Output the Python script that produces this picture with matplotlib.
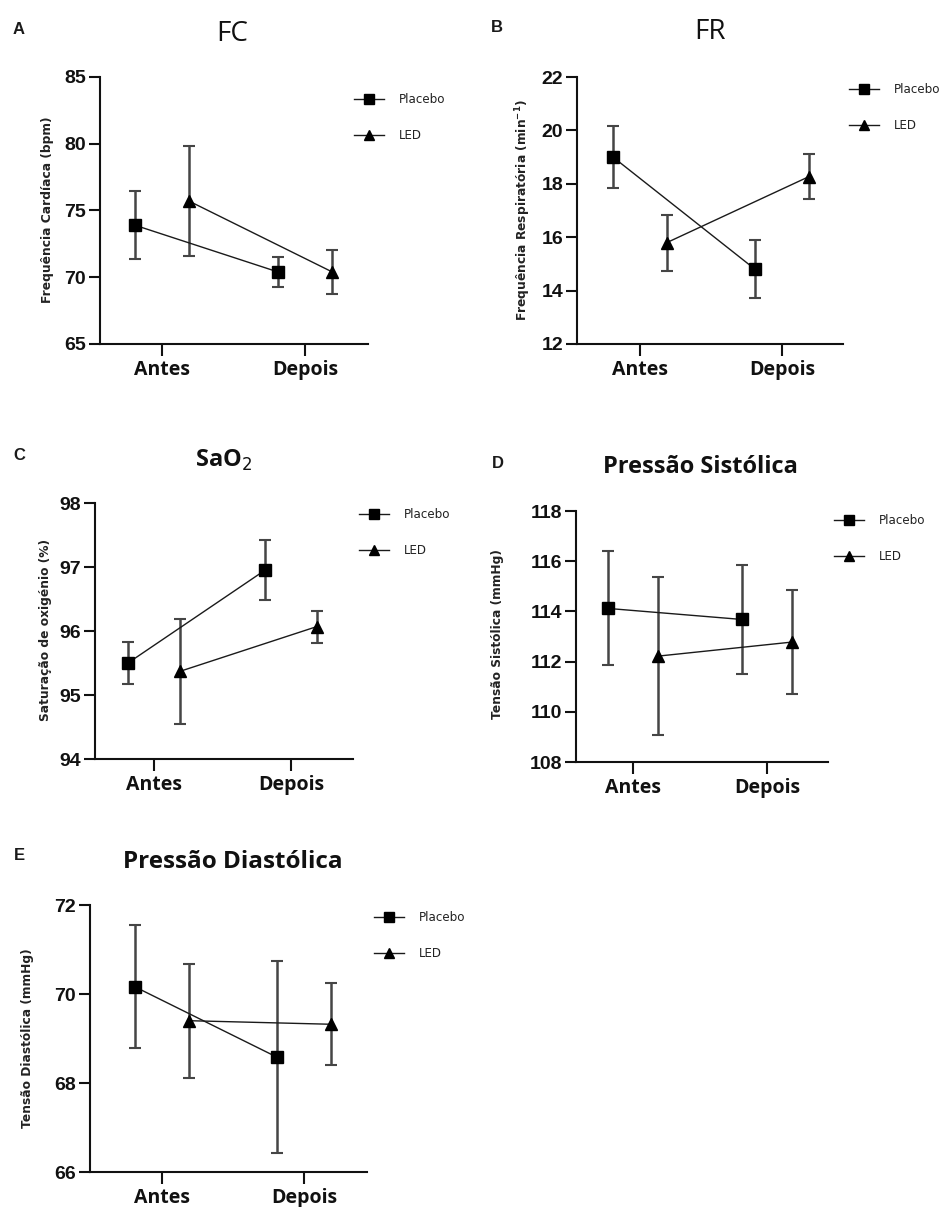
import matplotlib
matplotlib.use("Agg")
import matplotlib.pyplot as plt
import numpy as np

plt.rcParams['font.family'] = ['Liberation Sans', 'DejaVu Sans']
plt.rcParams['mathtext.fontset'] = 'custom'
plt.rcParams['mathtext.rm'] = 'DejaVu Sans:bold'
plt.rcParams['mathtext.it'] = 'DejaVu Sans:bold'
plt.rcParams['mathtext.bf'] = 'DejaVu Sans:bold'

categories = ['Antes', 'Depois']
series_names = ['Placebo', 'LED']

# Panel A - FC
fc_placebo = [73.9, 70.4]
fc_placebo_err = [2.55, 1.1]
fc_led = [75.7, 70.4]
fc_led_err = [4.1, 1.65]

# Panel B - FR
fr_placebo = [19.0, 14.8]
fr_placebo_err = [1.17, 1.08]
fr_led = [15.8, 18.27]
fr_led_err = [1.05, 0.85]

# Panel C - SaO2
sao2_placebo = [95.5, 96.95]
sao2_placebo_err = [0.33, 0.47]
sao2_led = [95.37, 96.07]
sao2_led_err = [0.82, 0.25]

# Panel D - Pressão Sistólica
pas_placebo = [114.12, 113.68]
pas_placebo_err = [2.27, 2.17]
pas_led = [112.22, 112.78]
pas_led_err = [3.15, 2.07]

# Panel E - Pressão Diastólica
pad_placebo = [70.16, 68.58]
pad_placebo_err = [1.38, 2.16]
pad_led = [69.4, 69.32]
pad_led_err = [1.28, 0.92]

panel_letters = ['A', 'B', 'C', 'D', 'E']
titles = ['FC', 'FR', 'SaO$_2$', 'Pressão Sistólica', 'Pressão Diastólica']
ylabels = ['Frequência Cardíaca (bpm)', 'Frequência Respiratória (min$^{-1}$)',
           'Saturação de oxigénio (%)', 'Tensão Sistólica (mmHg)', 'Tensão Diastólica (mmHg)']
yticks_list = [[65, 70, 75, 80, 85], [12, 14, 16, 18, 20, 22], [94, 95, 96, 97, 98],
               [108, 110, 112, 114, 116, 118], [66, 68, 70, 72]]

W, H = 947, 1207
fig = plt.figure(figsize=(W / 100, H / 100), dpi=100)

# layout in pixels: (left, top, right, bottom)
boxes = [(100, 77, 368, 344), (577, 77, 843, 344), (95, 503, 353, 759),
         (576, 511, 828, 762), (90, 905, 367, 1172)]
tick_px = [(162, 305), (640, 782), (154, 291), (633, 767), (162, 304)]
title_pos = [(232, 34), (710, 32), (224, 460), (700, 467), (233, 862)]
title_style = [(20, 'normal'), (20, 'normal'), (17, 'bold'), (17, 'bold'), (17.5, 'bold')]
letter_pos = [(19, 29), (497, 27), (19, 455), (498, 463), (19, 856)]
ylabel_x = [47, 523, 45, 497, 28]
ylabel_yc = [210, 210, 630, 634, 1038]
legend_px = [(354, 99), (849, 89), (359, 514), (834, 520), (374, 917)]

data = [
    (fc_placebo, fc_placebo_err, fc_led, fc_led_err),
    (fr_placebo, fr_placebo_err, fr_led, fr_led_err),
    (sao2_placebo, sao2_placebo_err, sao2_led, sao2_led_err),
    (pas_placebo, pas_placebo_err, pas_led, pas_led_err),
    (pad_placebo, pad_placebo_err, pad_led, pad_led_err),
]

offset = 0.19
err_color = '#454545'
x = np.arange(len(categories))

for i, (pm, pe, lm, le) in enumerate(data):
    l, t, r, b = boxes[i]
    ax = fig.add_axes([l / W, 1 - b / H, (r - l) / W, (b - t) / H])
    t0, t1 = tick_px[i]
    step = t1 - t0
    ax.set_xlim((l - t0) / step, (r - t0) / step)
    yt = yticks_list[i]
    ax.set_ylim(yt[0], yt[-1])
    ax.set_yticks(yt)
    ax.set_xticks(x)
    ax.set_xticklabels(categories, fontsize=14, fontweight='bold', family=['Open Sans', 'DejaVu Sans'])
    ax.set_yticklabels([str(v) for v in yt], fontsize=14, fontweight='bold')

    h1 = ax.errorbar(x - offset, pm, yerr=pe, color='#1a1a1a', ecolor=err_color,
                     elinewidth=1.8, capsize=4.2, capthick=1.5, linewidth=1.0,
                     marker='s', markersize=8, markerfacecolor='black',
                     markeredgecolor='black', label=series_names[0], zorder=3)
    h2 = ax.errorbar(x + offset, lm, yerr=le, color='#1a1a1a', ecolor=err_color,
                     elinewidth=1.8, capsize=4.2, capthick=1.5, linewidth=1.0,
                     marker='^', markersize=8, markerfacecolor='black',
                     markeredgecolor='black', label=series_names[1], zorder=3)

    for s in ['top', 'right']:
        ax.spines[s].set_visible(False)
    for s in ['left', 'bottom']:
        ax.spines[s].set_linewidth(1.5)
        ax.spines[s].set_color('#111111')
    ax.tick_params(axis='y', length=8, width=1.5, pad=2, colors='#111111')
    ax.tick_params(axis='x', length=8.5, width=1.5, pad=3, colors='#111111')

    # legend (line + marker only)
    lx, ly = legend_px[i]
    leg = ax.legend(handles=[h1[0], h2[0]], labels=series_names, loc='upper left',
                    bbox_to_anchor=(lx / W, 1 - (ly - 6) / H),
                    bbox_transform=fig.transFigure, frameon=False,
                    prop={'family': 'DejaVu Sans', 'size': 8.6},
                    handlelength=2.5, handletextpad=1.25, markerscale=0.85,
                    labelspacing=1.95, borderpad=0, borderaxespad=0)
    for txt in leg.get_texts():
        txt.set_color('#222222')

    # title
    tx, ty = title_pos[i]
    fs, fw = title_style[i]
    fig.text(tx / W, 1 - ty / H, titles[i], ha='center', va='center', fontsize=fs,
             fontweight=fw, family=['Open Sans', 'DejaVu Sans'], color='#111111',
             math_fontfamily='dejavusans')
    # panel letter
    px, py = letter_pos[i]
    fig.text(px / W, 1 - py / H, panel_letters[i], ha='center', va='center',
             fontsize=12, fontweight='bold', color='#1a1a1a')
    # y label
    fig.text(ylabel_x[i] / W, 1 - ylabel_yc[i] / H, ylabels[i], rotation=90, ha='center',
             va='center', fontsize=8.8, fontweight='bold', family='DejaVu Sans',
             color='#222222')

fig.savefig('out.png', dpi=100)
